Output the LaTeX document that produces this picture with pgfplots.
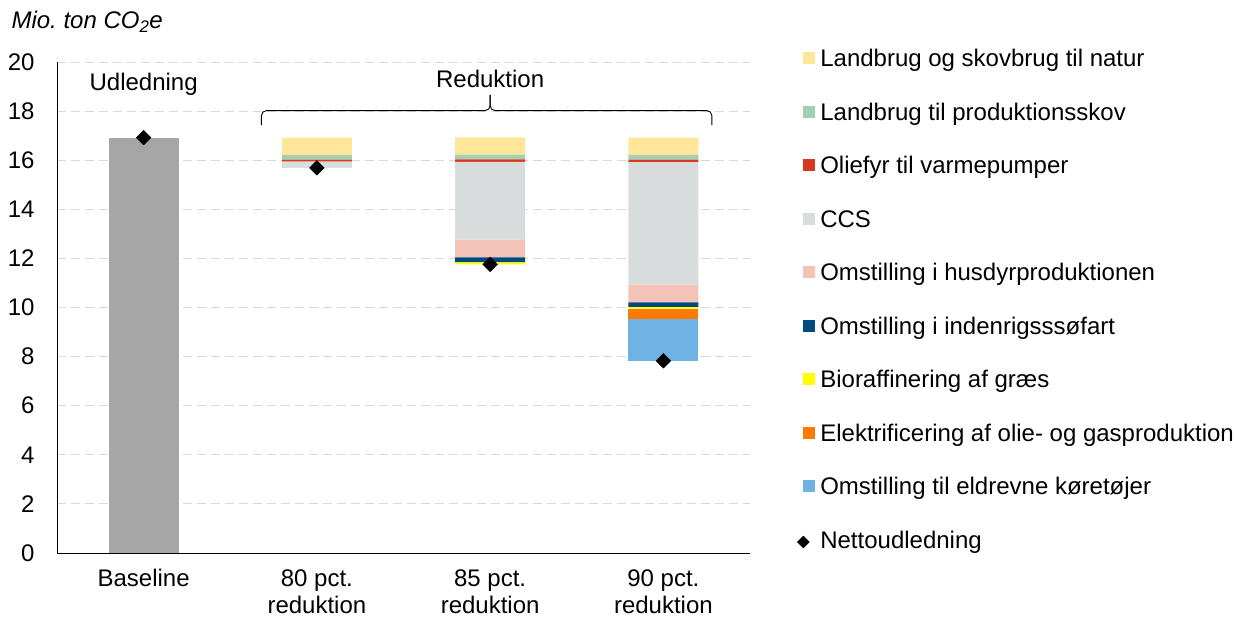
\documentclass[border=0pt]{standalone}
\usepackage{fontspec}
\setmainfont{Liberation Sans}
\usepackage{pgfplots}
\pgfplotsset{compat=1.18}
\definecolor{cBase}{HTML}{A6A6A6}
\definecolor{cNat}{HTML}{FFE699}
\definecolor{cSkov}{HTML}{A1D0B2}
\definecolor{cOlie}{HTML}{D9381E}
\definecolor{cCCS}{HTML}{D9DCDD}
\definecolor{cHus}{HTML}{F4C3B8}
\definecolor{cInd}{HTML}{004981}
\definecolor{cBio}{HTML}{FFFF00}
\definecolor{cElk}{HTML}{FF7A00}
\definecolor{cEl}{HTML}{6EB3E4}
\definecolor{cGrid}{HTML}{D9D9D9}
\newcommand\f{\fontsize{24bp}{27bp}\selectfont}
\pgfplotsset{
  sq/.style={legend image code/.code={\fill[##1] (0bp,-3.7bp) rectangle (12bp,8.3bp);}},
}
\frenchspacing
\begin{document}
\begin{tikzpicture}
\begin{axis}[
  name=ax,
  at={(0,0)}, anchor=south west,
  scale only axis, width=693bp, height=491bp,
  ybar stacked, bar width=70bp,
  xmin=-0.5, xmax=3.5, ymin=0, ymax=20,
  xtick={0,1,2,3},
  xticklabels={Baseline,{80 pct.\\reduktion},{85 pct.\\reduktion},{90 pct.\\reduktion}},
  ytick={0,2,...,20},
  axis x line*=bottom, axis y line*=left,
  axis line style={black, line width=0.9bp, -},
  major tick length=0pt,
  ymajorgrids,
  grid style={cGrid, line width=0.9bp, dash pattern=on 9bp off 5bp},
  tick label style={font=\f},
  xticklabel style={align=center, yshift=-13bp},
  yticklabel style={xshift=-19bp},
  /pgf/number format/assume math mode=true,
  clip=false,
  reverse legend,
  legend cell align=left,
  legend style={at={(axis description cs:1.0678,1.0261)}, anchor=north west,
    draw=none, fill=none, font=\f, row sep=31.3bp, column sep=5bp, inner sep=0pt,
    nodes={inner sep=0pt, text height=17.4bp, text depth=4.8bp}},
]
\addplot[fill=cBase, draw=none, forget plot] coordinates {(0,16.92) (1,0) (2,0) (3,0)};
\addplot[fill=none, draw=none, forget plot] coordinates {(0,0) (1,15.69) (2,11.76) (3,7.83)};
\addlegendimage{legend image code/.code={\fill[black,rotate=45] (-4.2bp,-4.2bp) rectangle (4.2bp,4.2bp);}}
\addlegendentry{Nettoudledning}
\addplot[fill=cEl, draw=none, sq] coordinates {(0,0) (1,0) (2,0) (3,1.70)};
\addlegendentry{Omstilling til eldrevne køretøjer}
\addplot[fill=cElk, draw=none, sq] coordinates {(0,0) (1,0) (2,0) (3,0.42)};
\addlegendentry{Elektrificering af olie- og gasproduktion}
\addplot[fill=cBio, draw=none, sq] coordinates {(0,0) (1,0) (2,0.08) (3,0.07)};
\addlegendentry{Bioraffinering af græs}
\addplot[fill=cInd, draw=none, sq] coordinates {(0,0) (1,0) (2,0.20) (3,0.19)};
\addlegendentry{Omstilling i indenrigsssøfart}
\addplot[fill=cHus, draw=none, sq] coordinates {(0,0) (1,0) (2,0.72) (3,0.72)};
\addlegendentry{Omstilling i husdyrproduktionen}
\addplot[fill=cCCS, draw=none, sq] coordinates {(0,0) (1,0.25) (2,3.17) (3,4.99)};
\addlegendentry{CCS}
\addplot[fill=cOlie, draw=none, sq] coordinates {(0,0) (1,0.08) (2,0.10) (3,0.10)};
\addlegendentry{Oliefyr til varmepumper}
\addplot[fill=cSkov, draw=none, sq] coordinates {(0,0) (1,0.20) (2,0.20) (3,0.20)};
\addlegendentry{Landbrug til produktionsskov}
\addplot[fill=cNat, draw=none, sq] coordinates {(0,0) (1,0.70) (2,0.70) (3,0.70)};
\addlegendentry{Landbrug og skovbrug til natur}
\node[font=\f] at (axis cs:0,19.1) {Udledning};
\node[font=\f] at (axis cs:2,19.3) {Reduktion};
\draw[black, line width=0.9bp, rounded corners=5bp] (axis cs:0.68,17.43) -- (axis cs:0.68,18.02) -- (axis cs:2.0,18.02) -- (axis cs:2.0,18.66);
\draw[black, line width=0.9bp, rounded corners=5bp] (axis cs:3.28,17.43) -- (axis cs:3.28,18.02) -- (axis cs:2.0,18.02) -- (axis cs:2.0,18.66);
\end{axis}
\begin{axis}[
  at={(ax.south west)}, anchor=south west,
  scale only axis, width=693bp, height=491bp,
  xmin=-0.5, xmax=3.5, ymin=0, ymax=20,
  hide axis, clip=false,
]
\addplot[only marks, mark=square*, mark size=5.2bp, mark options={rotate=45, fill=black, draw=black}] coordinates {(0,16.92) (1,15.69) (2,11.76) (3,7.83)};
\end{axis}
\node[anchor=base west, font=\f\itshape] at ([shift={(-49bp,33bp)}]ax.north west) {Mio. ton CO\textsubscript{2}e};
\pgfresetboundingbox
\path ([shift={(-57bp,-66bp)}]ax.south west) rectangle ([shift={(1178bp,553bp)}]ax.south west);
\end{tikzpicture}
\end{document}
